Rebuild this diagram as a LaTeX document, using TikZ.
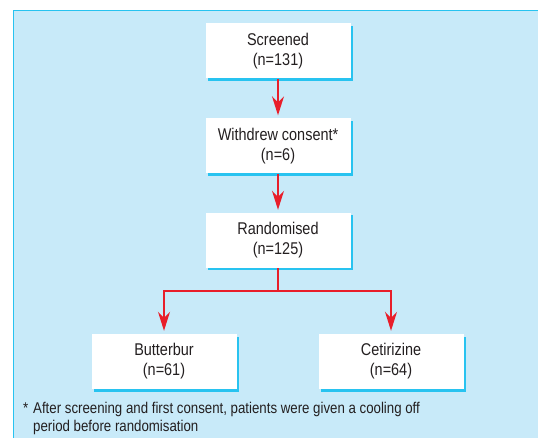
\documentclass[tikz,border=0pt]{standalone}
\usepackage{fontspec}
\setmainfont{Liberation Sans}[FakeStretch=0.85]
\usetikzlibrary{arrows.meta,shadows}
\definecolor{bgblue}{RGB}{200,234,249}
\definecolor{edgecyan}{RGB}{40,195,240}
\definecolor{arrowred}{RGB}{232,30,42}
\definecolor{txt}{RGB}{35,31,32}
\tikzset{
  box/.style={fill=white, minimum width=145pt, minimum height=55pt, align=center,
    inner sep=0pt, text=txt, font=\fontsize{17}{20}\selectfont,
    drop shadow={shadow xshift=2.5pt, shadow yshift=-2.5pt, fill=edgecyan, opacity=1}},
  flowline/.style={draw=arrowred, line width=1.6pt},
  flowarrow/.style={flowline, -{Stealth[length=19pt,width=12pt,inset=6pt]}, shorten >=3pt},
  note/.style={anchor=base west, inner sep=0pt, text=txt, font=\fontsize{15.6}{18}\selectfont}
}
\begin{document}
\begin{tikzpicture}[x=1pt,y=-1pt]
\useasboundingbox (0,0) rectangle (538,438);
\fill[bgblue] (13.5,10.5) rectangle (540,440);
\draw[edgecyan, line width=1.2pt] (13.5,440) -- (13.5,10.5) -- (540,10.5);
\node[box] (s) at (278,51) {Screened\\(n=131)};
\node[box] (w) at (278,146) {Withdrew consent*\\(n=6)};
\node[box] (r) at (278,240.5) {Randomised\\(n=125)};
\node[box] (b) at (164,361.5) {Butterbur\\(n=61)};
\node[box] (c) at (391,361.5) {Cetirizine\\(n=64)};
\coordinate (j) at (278,291);
\draw[flowarrow] (s) -- (w);
\draw[flowarrow] (w) -- (r);
\draw[flowline] (r) -- (j);
\draw[flowarrow] (j) -| (b.north);
\draw[flowarrow] (j) -| (c.north);
\node[note] (star) at (23,413) {*};
\node[note] (fn1) at (33,413) {After screening and first consent, patients were given a cooling off};
\node[note] (fn2) at (33,431) {period before randomisation};
\end{tikzpicture}
\end{document}
